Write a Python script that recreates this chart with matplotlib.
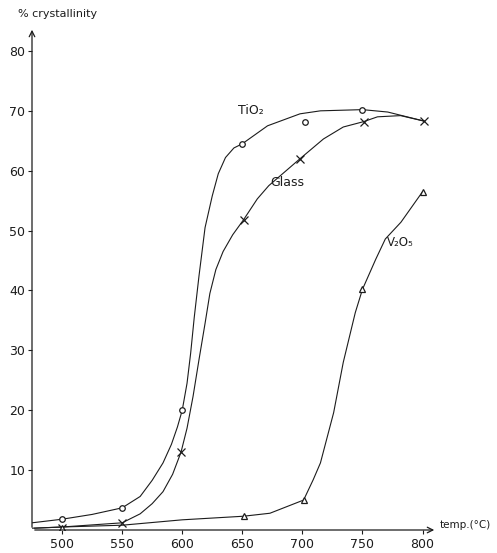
import matplotlib
matplotlib.use("Agg")
import matplotlib.pyplot as plt

# marker points (temperature in C, % crystallinity)
tio2_t = [500, 550, 600, 650, 702, 750]
tio2_v = [1.8, 3.7, 20, 64.5, 68.2, 70.2]
glass_t = [500, 550, 599, 651, 698, 751, 801]
glass_v = [0.3, 1.2, 13, 51.8, 62, 68.2, 68.3]
v2o5_t = [500, 651, 701, 750, 800]
v2o5_v = [0.4, 2.3, 5.0, 40.2, 56.5]

# hand drawn curves
tio2_curve_t = [475, 500, 525, 550, 565, 575, 584, 591, 596, 600, 604, 607, 610, 614, 619, 625, 630, 636, 643, 650, 671, 698, 715, 750, 771, 801]
tio2_curve_v = [1.2, 1.8, 2.6, 3.7, 5.6, 8.3, 11.2, 14.3, 17.2, 20, 24.5, 29.5, 35.5, 42.5, 50.5, 55.8, 59.5, 62.2, 63.8, 64.5, 67.5, 69.5, 70, 70.2, 69.8, 68.3]
glass_curve_t = [475, 500, 550, 565, 575, 584, 592, 599, 604, 609, 614, 619, 623, 628, 634, 642, 651, 662.5, 672, 698, 717.5, 734, 751, 762.5, 781.7, 801]
glass_curve_v = [0.3, 0.5, 1.2, 2.7, 4.4, 6.4, 9.3, 13, 17, 22.3, 28.5, 34.5, 39.5, 43.5, 46.5, 49.3, 51.8, 55.3, 57.5, 62, 65.3, 67.3, 68.2, 69, 69.2, 68.3]
v2o5_curve_t = [477, 500, 550, 600, 651, 673, 701, 709, 715, 726, 734, 744, 750, 761, 769, 782, 800]
v2o5_curve_v = [0.3, 0.5, 0.8, 1.7, 2.3, 2.8, 5.0, 8.4, 11.2, 19.6, 28, 36.3, 40.2, 45.2, 48.6, 51.4, 56.5]

xticks = [500, 550, 600, 650, 700, 750, 800]
yticks = [10, 20, 30, 40, 50, 60, 70, 80]

ink = "#1c1c1c"

fig = plt.figure(figsize=(4.97, 5.53), dpi=100)
ax = fig.add_axes([32 / 497, 1 - 530 / 553, (437 - 32) / 497, (530 - 27) / 553])
ax.set_xlim(475, 812)
ax.set_ylim(0, 84)

ax.plot(tio2_curve_t, tio2_curve_v, color=ink, lw=0.8)
ax.plot(glass_curve_t, glass_curve_v, color=ink, lw=0.8)
ax.plot(v2o5_curve_t, v2o5_curve_v, color=ink, lw=0.8)

ax.plot(tio2_t, tio2_v, "o", ms=4, mfc="white", mec=ink, mew=0.9, ls="none")
ax.plot(glass_t, glass_v, "x", ms=6, color=ink, mew=0.9, ls="none")
ax.plot(v2o5_t, v2o5_v, "^", ms=4, mfc="white", mec=ink, mew=0.9, ls="none")

ax.text(646, 69.5, "TiO₂", fontsize=9, color=ink)
ax.text(673, 57.5, "Glass", fontsize=9, color=ink)
ax.text(770, 47.5, "V₂O₅", fontsize=8.5, color=ink)

for s in ax.spines.values():
    s.set_visible(False)
ax.annotate("", xy=(1, 0), xytext=(0, 0), xycoords="axes fraction",
            arrowprops=dict(arrowstyle="->", color=ink, lw=0.9))
ax.annotate("", xy=(0, 1), xytext=(0, 0), xycoords="axes fraction",
            arrowprops=dict(arrowstyle="->", color=ink, lw=0.9))

ax.set_xticks(xticks)
ax.set_yticks(yticks)
ax.tick_params(axis="x", direction="out", length=3, width=0.8, color=ink,
               labelsize=9, labelcolor=ink, pad=3)
ax.tick_params(axis="y", direction="out", length=3, width=0.8, color=ink,
               labelsize=9, labelcolor=ink, pad=2)

fig.text(18 / 497, 1 - 14 / 553, "% crystallinity", fontsize=8, color=ink, va="center")
fig.text(440 / 497, 1 - 525 / 553, "temp.(°C)", fontsize=7.5, color=ink, va="center")

fig.savefig("out.png", dpi=100)
